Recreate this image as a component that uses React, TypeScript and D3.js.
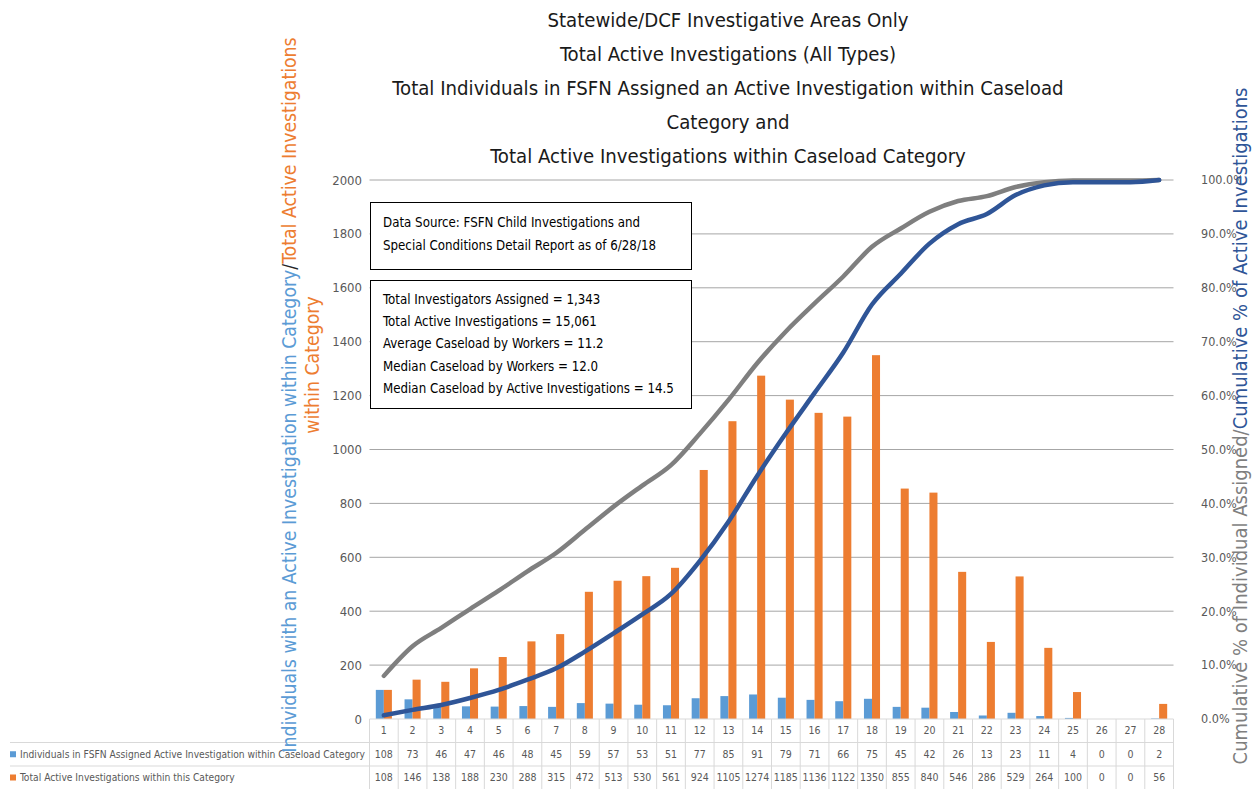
import React from "react";
import * as d3 from "d3";

const categories = ["1","2","3","4","5","6","7","8","9","10","11","12","13","14","15","16","17","18","19","20","21","22","23","24","25","26","27","28"];
const individuals = [108,73,46,47,46,48,45,59,57,53,51,77,85,91,79,71,66,75,45,42,26,13,23,11,4,0,0,2];
const investigations = [108,146,138,188,230,288,315,472,513,530,561,924,1105,1274,1185,1136,1122,1350,855,840,546,286,529,264,100,0,0,56];
// cumulative %
const cumIndividuals = [8.0,13.5,16.9,20.4,23.8,27.4,30.8,35.1,39.4,43.3,47.1,52.9,59.2,66.0,71.9,77.1,82.1,87.6,91.0,94.1,96.1,97.0,98.7,99.6,99.9,99.9,99.9,100.0];
const cumInvestigations = [0.7,1.7,2.6,3.9,5.4,7.3,9.4,12.5,15.9,19.4,23.2,29.3,36.6,45.1,53.0,60.5,68.0,76.9,82.6,88.2,91.8,93.7,97.2,99.0,99.6,99.6,99.6,100.0];
const leftTicks = [0,200,400,600,800,1000,1200,1400,1600,1800,2000];
const rightTicks = [0,0.1,0.2,0.3,0.4,0.5,0.6,0.7,0.8,0.9,1.0];

const titleLines = [
  "Statewide/DCF Investigative Areas Only",
  "Total Active Investigations (All Types)",
  "Total Individuals in FSFN Assigned an Active Investigation within Caseload",
  "Category and",
  "Total Active Investigations within Caseload Category",
];
const sourceLines = [
  "Data Source: FSFN Child Investigations and",
  "Special Conditions Detail Report as of 6/28/18",
];
const statLines = [
  "Total Investigators Assigned = 1,343",
  "Total Active Investigations = 15,061",
  "Average Caseload by Workers = 11.2",
  "Median Caseload by Workers = 12.0",
  "Median Caseload by Active Investigations = 14.5",
];
const seriesNames = [
  "Individuals in FSFN  Assigned Active Investigation within Caseload Category",
  "Total Active Investigations within this Category",
];

const FONT = "'DejaVu Sans Condensed', 'Liberation Sans', sans-serif";
const BLUE = "#5B9BD5";
const ORANGE = "#ED7D31";
const GRAY_LINE = "#7F7F7F";
const NAVY = "#2F5597";
const LABEL = "#595959";

export default function App() {
  const width = 1256;
  const height = 789;
  const left = 369.5;
  const right = 1173.5;
  const top = 180;
  const bottom = 719;
  const rowY = [719, 742.5, 766, 789];

  const x = d3.scaleBand<string>().domain(categories).range([left, right]).padding(0);
  const y = d3.scaleLinear().domain([0, 2000]).range([bottom, top]);
  const yPct = d3.scaleLinear().domain([0, 1]).range([bottom, top]);
  const bw = x.bandwidth();
  const barW = bw * 0.28;
  const cx = (c: string) => (x(c) as number) + bw / 2;

  const line = d3
    .line<number>()
    .x((_, i) => cx(categories[i]))
    .y((d) => yPct(d / 100))
    .curve(d3.curveMonotoneX);

  return (
    <svg width={width} height={height} style={{ position: "absolute", left: 0, top: 0, background: "#fff" }} fontFamily={FONT}>
      <defs>
        <clipPath id="rclip">
          <rect x={1180} y={0} width={61} height={height} />
        </clipPath>
      </defs>

      {/* title */}
      {titleLines.map((t, i) => (
        <text key={i} x={728} y={20 + i * 34} dy="0.35em" textAnchor="middle" fontSize={20.2} fill="#1a1a1a">
          {t}
        </text>
      ))}

      {/* gridlines */}
      {leftTicks.slice(1).map((t) => (
        <line key={t} x1={left} x2={right} y1={y(t)} y2={y(t)} stroke="#A6A6A6" strokeWidth={1} />
      ))}

      {/* left ticks */}
      {leftTicks.map((t) => (
        <text key={t} x={362} y={y(t)} dy="0.35em" textAnchor="end" fontSize={13} fill={LABEL}>
          {t}
        </text>
      ))}

      {/* right ticks */}
      <g clipPath="url(#rclip)">
        {rightTicks.map((t) => (
          <text key={t} x={1201} y={yPct(t)} dy="0.35em" fontSize={12.5} fill={LABEL}>
            {d3.format(".1%")(t)}
          </text>
        ))}
      </g>

      {/* bars */}
      {categories.map((c, i) => (
        <g key={c}>
          <rect x={cx(c) - barW} y={y(individuals[i])} width={barW} height={bottom - y(individuals[i])} fill={BLUE} />
          <rect x={cx(c)} y={y(investigations[i])} width={barW} height={bottom - y(investigations[i])} fill={ORANGE} />
        </g>
      ))}

      {/* cumulative lines */}
      <path d={line(cumIndividuals) || ""} fill="none" stroke={GRAY_LINE} strokeWidth={4.5} strokeLinejoin="round" strokeLinecap="round" />
      <path d={line(cumInvestigations) || ""} fill="none" stroke={NAVY} strokeWidth={4.5} strokeLinejoin="round" strokeLinecap="round" />

      {/* text boxes */}
      <rect x={370.5} y={202.5} width={321} height={67} fill="#fff" stroke="#000" strokeWidth={1} />
      {sourceLines.map((t, i) => (
        <text key={i} x={383} y={222 + i * 23} dy="0.35em" fontSize={13.2} fill="#000">
          {t}
        </text>
      ))}
      <rect x={370.5} y={280.5} width={321} height={128} fill="#fff" stroke="#000" strokeWidth={1} />
      {statLines.map((t, i) => (
        <text key={i} x={383} y={299 + i * 22.3} dy="0.35em" fontSize={13.2} fill="#000">
          {t}
        </text>
      ))}

      {/* data table */}
      <line x1={left} x2={right} y1={rowY[0]} y2={rowY[0]} stroke="#D9D9D9" />
      <line x1={10} x2={right} y1={rowY[1]} y2={rowY[1]} stroke="#D9D9D9" />
      <line x1={10} x2={right} y1={rowY[2]} y2={rowY[2]} stroke="#D9D9D9" />
      {[...categories.map((c) => x(c) as number), right].map((xv, i) => (
        <line key={i} x1={xv} x2={xv} y1={rowY[0]} y2={rowY[3]} stroke="#D9D9D9" />
      ))}
      {categories.map((c, i) => (
        <g key={c} fontSize={10.5} fill={LABEL} textAnchor="middle">
          <text x={cx(c)} y={(rowY[0] + rowY[1]) / 2} dy="0.35em">{c}</text>
          <text x={cx(c)} y={(rowY[1] + rowY[2]) / 2} dy="0.35em">{individuals[i]}</text>
          <text x={cx(c)} y={(rowY[2] + rowY[3]) / 2} dy="0.35em">{investigations[i]}</text>
        </g>
      ))}
      {seriesNames.map((s, i) => (
        <g key={s}>
          <rect x={10} y={(rowY[i + 1] + rowY[i + 2]) / 2 - 3} width={6} height={6} fill={i === 0 ? BLUE : ORANGE} />
          <text x={20} y={(rowY[i + 1] + rowY[i + 2]) / 2} dy="0.35em" fontSize={10.2} fill={LABEL}>
            {s}
          </text>
        </g>
      ))}

      {/* left axis title */}
      <text transform="translate(296,395) rotate(-90)" textAnchor="middle" fontSize={19.3}>
        <tspan fill={BLUE}>Individuals with an Active Investigation within Category</tspan>
        <tspan fill="#262626">/</tspan>
        <tspan fill={ORANGE}>Total Active Investigations</tspan>
      </text>
      <text transform="translate(319,365) rotate(-90)" textAnchor="middle" fontSize={19.3} fill={ORANGE}>
        within Category
      </text>

      {/* right axis title */}
      <text transform="translate(1247,426) rotate(-90)" textAnchor="middle" fontSize={20}>
        <tspan fill={GRAY_LINE}>Cumulative % of Individual Assigned/</tspan>
        <tspan fill={NAVY}>Cumulative % of Active Investigations</tspan>
      </text>
    </svg>
  );
}
